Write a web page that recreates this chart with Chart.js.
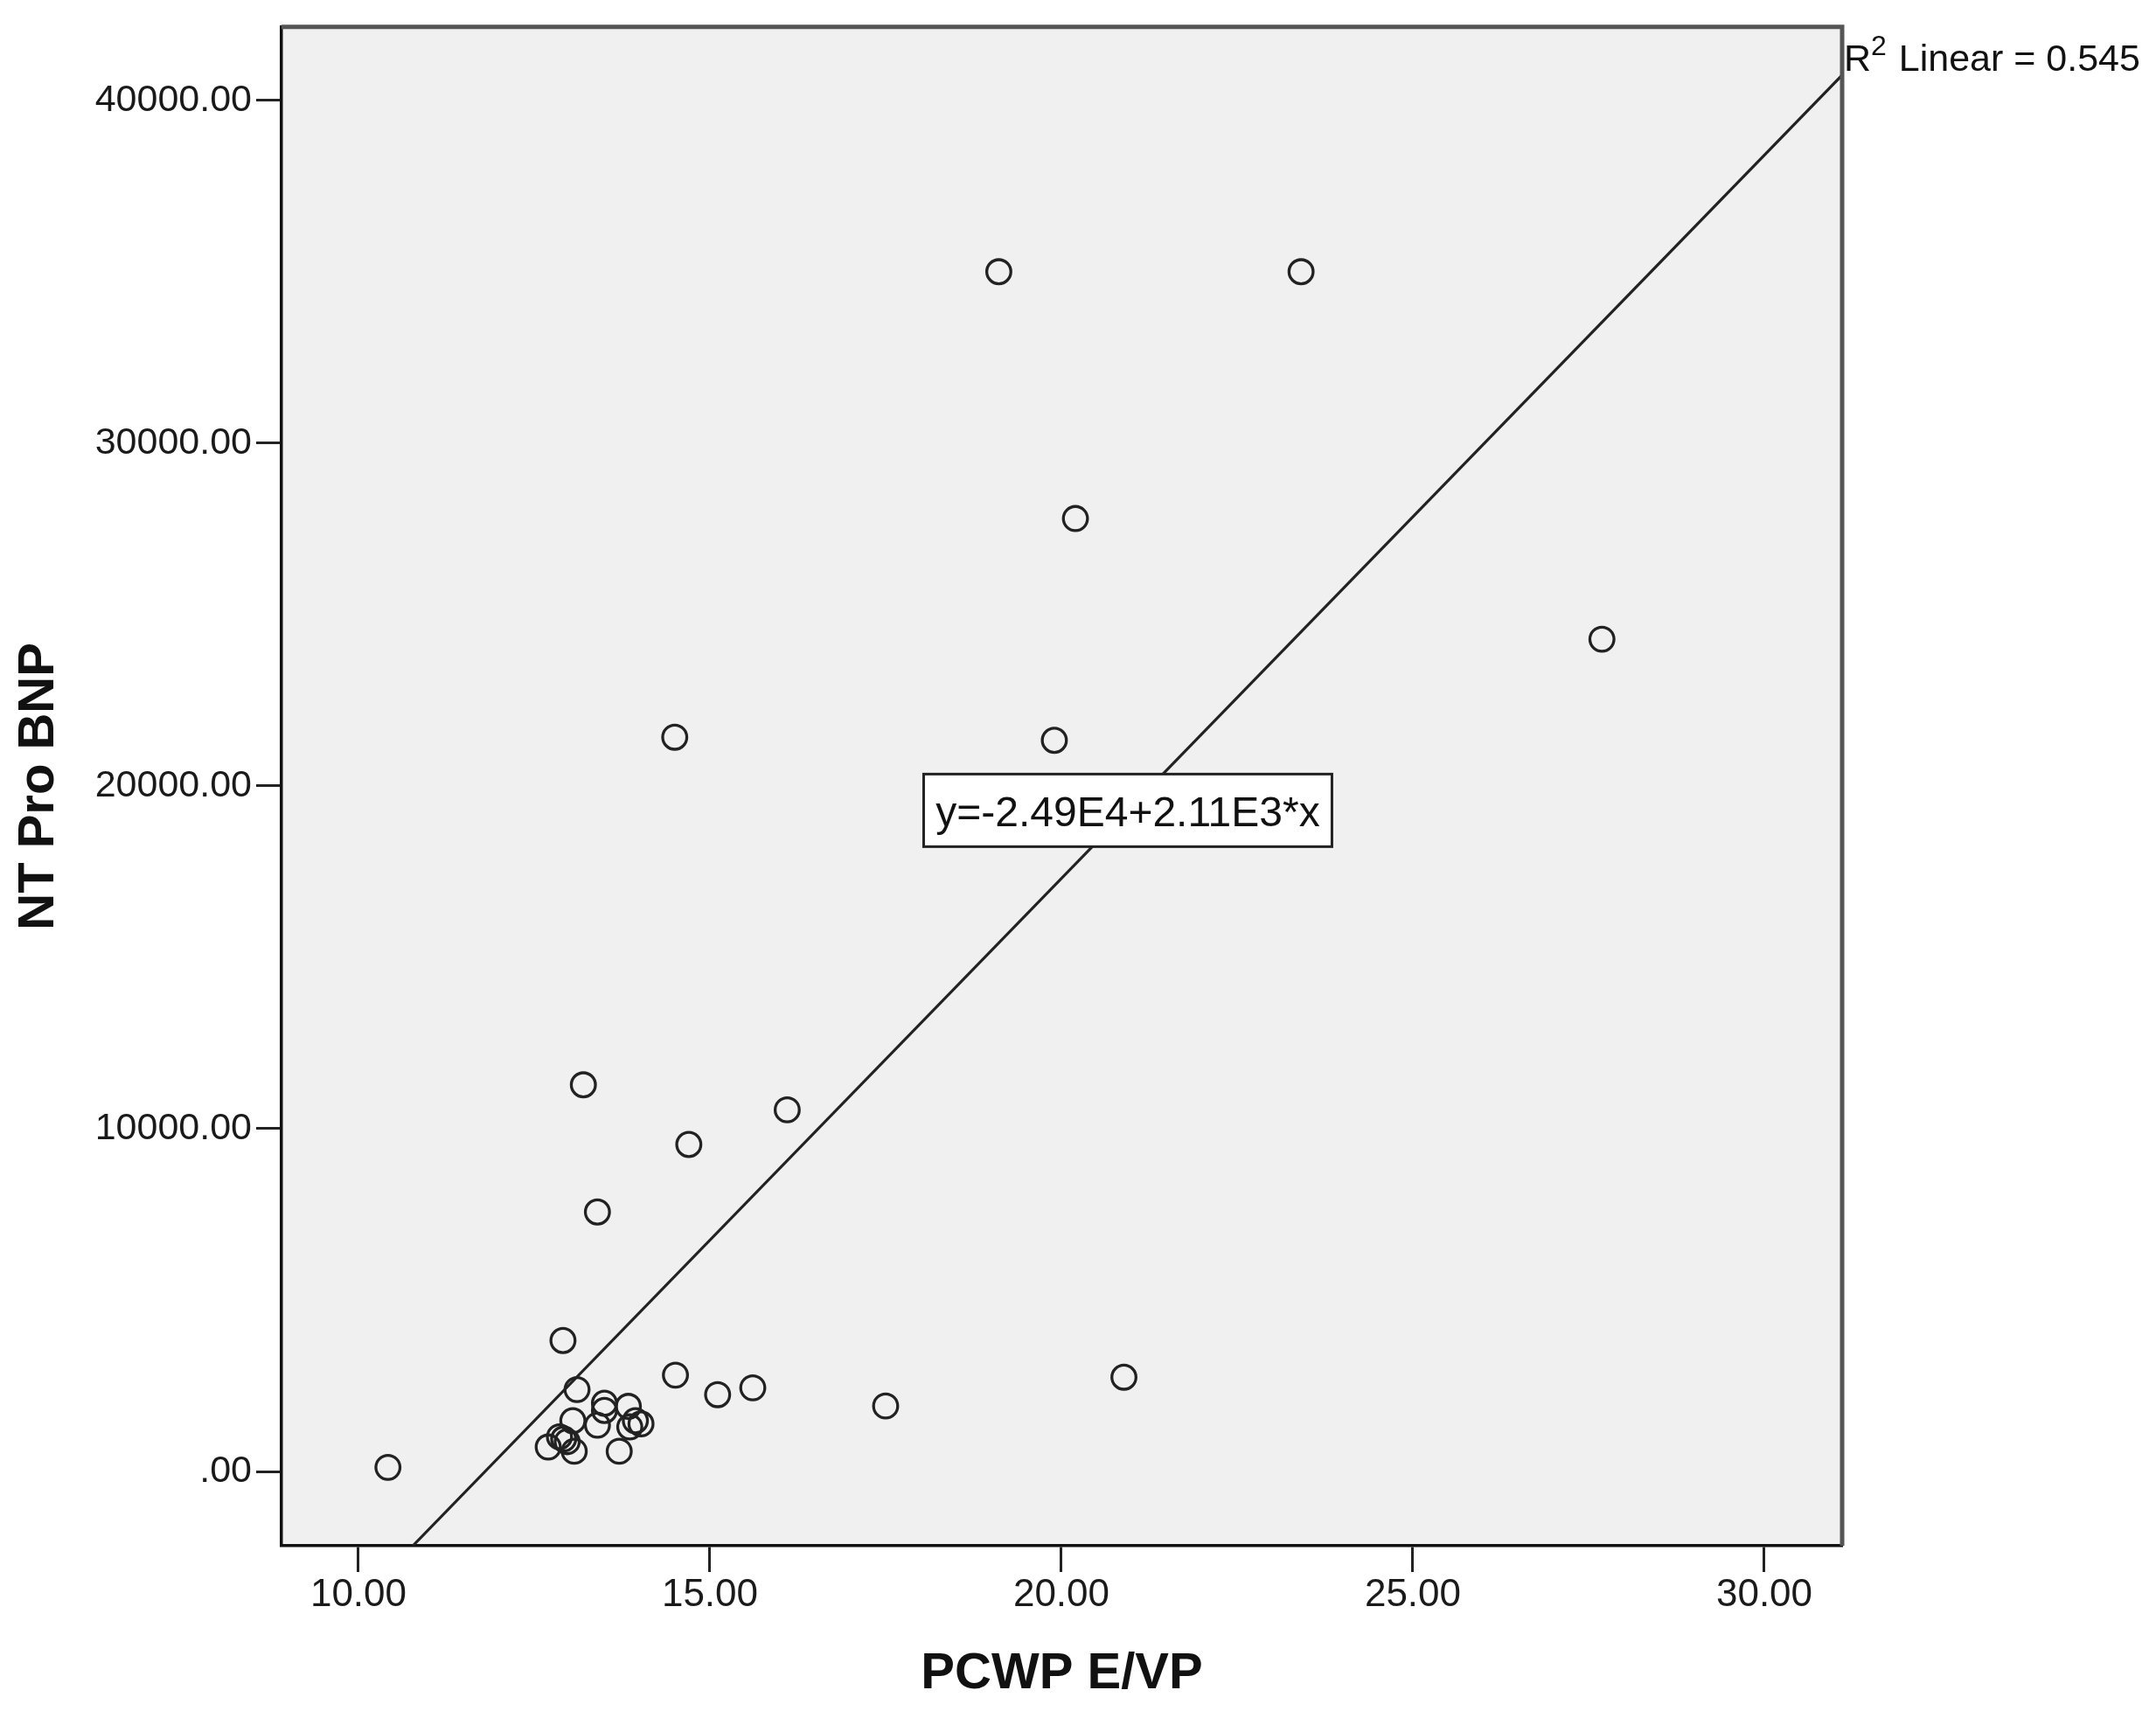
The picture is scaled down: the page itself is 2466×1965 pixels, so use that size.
<!DOCTYPE html>
<html><head><meta charset="utf-8">
<script src="https://cdn.jsdelivr.net/npm/chart.js@4.4.1/dist/chart.umd.min.js"></script>
<style>html,body{margin:0;padding:0;background:#fff;}#wrap{width:2466px;height:1965px;position:relative;}</style>
</head><body><div id="wrap"><canvas id="c"></canvas></div>
<script>
// ---- data ----
const xValues = [19.11, 23.41, 20.20, 27.69, 19.90, 14.50, 13.20, 16.10, 14.70, 13.40,
                 12.91, 14.51, 20.89, 15.61, 13.11, 15.11, 17.50, 10.42,
                 13.50, 13.50, 13.84, 13.40, 13.94, 14.02, 13.86, 13.05, 12.86, 12.92, 12.97, 12.70, 13.07, 13.71];
const yValues = [35000, 35000, 27800, 24280, 21330, 21420, 11280, 10550, 9540, 7570,
                 3820, 2810, 2750, 2440, 2390, 2240, 1910, 120,
                 1990, 1780, 1900, 1350, 1480, 1390, 1300, 1480, 1010, 950, 870, 714, 590, 590];
const xTicks = [10, 15, 20, 25, 30];
const xTickLabels = ['10.00', '15.00', '20.00', '25.00', '30.00'];
const yTicks = [0, 10000, 20000, 30000, 40000];
const yTickLabels = ['.00', '10000.00', '20000.00', '30000.00', '40000.00'];
const xAxisTitle = 'PCWP E/VP';
const yAxisTitle = 'NT Pro BNP';
const fitIntercept = -24900;
const fitSlope = 2110;
const fitEquation = 'y=-2.49E4+2.11E3*x';
const r2Value = '0.545';
const xMin = 8.906, xMax = 31.107, yMin = -2167, yMax = 42141;

const FONT = '"Liberation Sans", Arial, sans-serif';
const points = xValues.map((v, i) => ({x: v, y: yValues[i]}));
const lineStartX = (yMin - fitIntercept) / fitSlope;
const fitLine = [{x: lineStartX, y: yMin}, {x: xMax, y: fitIntercept + fitSlope * xMax}];

const bgPlugin = {
  id: 'bg',
  beforeDraw(chart) {
    const {ctx, chartArea: a} = chart;
    ctx.save();
    ctx.fillStyle = '#f0f0f0';
    ctx.fillRect(a.left, a.top, a.right - a.left, a.bottom - a.top);
    ctx.restore();
  }
};
const framePlugin = {
  id: 'frame',
  afterDraw(chart) {
    const {ctx, chartArea: a} = chart;
    ctx.save();
    ctx.strokeStyle = '#555';
    ctx.lineWidth = 5;
    ctx.beginPath();
    ctx.moveTo(a.left, a.top); ctx.lineTo(a.right, a.top); ctx.lineTo(a.right, a.bottom);
    ctx.stroke();
    // R² label
    ctx.fillStyle = '#111';
    ctx.textBaseline = 'alphabetic';
    ctx.textAlign = 'left';
    let x = a.right + 2;
    const base = 81;
    ctx.font = '43px ' + FONT;
    ctx.fillText('R', x, base);
    x += ctx.measureText('R').width;
    ctx.font = '32px ' + FONT;
    ctx.fillText('2', x, base - 18);
    x += ctx.measureText('2').width + 2;
    ctx.font = '43px ' + FONT;
    ctx.fillText(' Linear = ' + r2Value, x, base);
    ctx.restore();
  }
};
const eqPlugin = {
  id: 'eq',
  afterDatasetsDraw(chart) {
    const {ctx, scales: {x, y}} = chart;
    const cx = x.getPixelForValue(20.945), cy = y.getPixelForValue(19286);
    const w = 467, h = 83;
    ctx.save();
    ctx.fillStyle = '#fff';
    ctx.fillRect(cx - w / 2, cy - h / 2, w, h);
    ctx.strokeStyle = '#222';
    ctx.lineWidth = 3;
    ctx.strokeRect(cx - w / 2, cy - h / 2, w, h);
    ctx.fillStyle = '#111';
    ctx.font = '48px ' + FONT;
    ctx.textAlign = 'center';
    ctx.textBaseline = 'alphabetic';
    ctx.fillText(fitEquation, cx, cy + 18);
    ctx.restore();
  }
};

new Chart(document.getElementById('c'), {
  type: 'scatter',
  data: {
    datasets: [
      {
        data: fitLine, showLine: true, borderColor: '#222', borderWidth: 3.2,
        pointRadius: 0, pointHoverRadius: 0, fill: false
      },
      {
        data: points, pointStyle: 'circle', pointRadius: 13.8, pointHoverRadius: 13.8,
        borderColor: '#222', borderWidth: 3.3, backgroundColor: 'rgba(0,0,0,0)'
      }
    ]
  },
  options: {
    responsive: true, maintainAspectRatio: false, animation: false,
    layout: {padding: {top: 30, right: 359, left: 0, bottom: 0}},
    plugins: {legend: {display: false}, tooltip: {enabled: false}},
    events: [],
    scales: {
      x: {
        type: 'linear', min: xMin, max: xMax,
        afterBuildTicks: s => { s.ticks = xTicks.map(v => ({value: v})); },
        afterFit: s => { s.height = 197; },
        ticks: {
          callback: (v, i) => xTickLabels[i],
          font: {family: FONT, size: 44}, color: '#1a1a1a', padding: 0, maxRotation: 0
        },
        grid: {drawOnChartArea: false, drawTicks: true, tickLength: 30, tickWidth: 3, tickColor: '#222'},
        border: {display: true, color: '#111', width: 3.5},
        title: {display: true, text: xAxisTitle, font: {family: FONT, size: 58, weight: 'bold'},
                color: '#111', padding: {top: 0, bottom: 15}}
      },
      y: {
        type: 'linear', min: yMin, max: yMax,
        afterBuildTicks: s => { s.ticks = yTicks.map(v => ({value: v})); },
        afterFit: s => { s.width = 322; },
        ticks: {
          callback: (v, i) => yTickLabels[i],
          font: {family: FONT, size: 43}, color: '#1a1a1a', padding: 5
        },
        grid: {drawOnChartArea: false, drawTicks: true, tickLength: 29, tickWidth: 3, tickColor: '#222'},
        border: {display: true, color: '#111', width: 3.5},
        title: {display: true, text: yAxisTitle, font: {family: FONT, size: 58, weight: 'bold'},
                color: '#111', padding: {top: 10, bottom: 0}}
      }
    }
  },
  plugins: [bgPlugin, eqPlugin, framePlugin]
});
</script>
</body></html>
